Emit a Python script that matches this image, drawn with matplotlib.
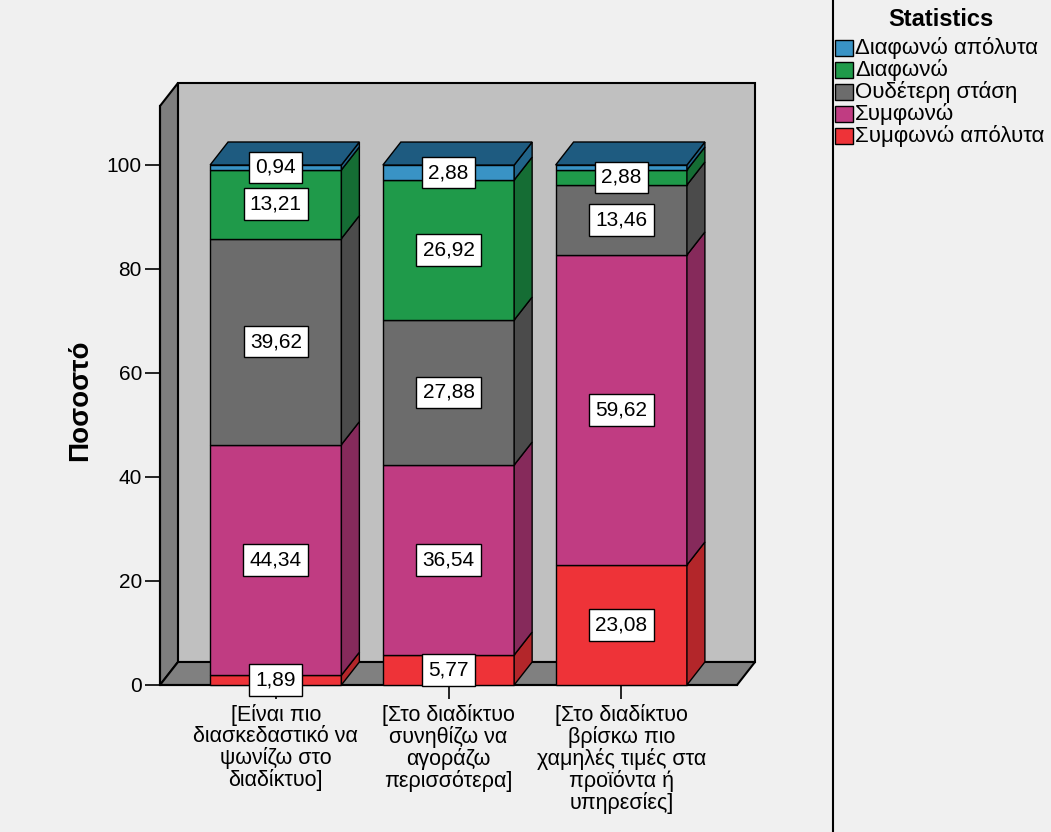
import matplotlib
matplotlib.use('Agg')
import matplotlib.pyplot as plt
from matplotlib.patches import Polygon, Rectangle
from matplotlib.lines import Line2D

plt.rcParams['font.family'] = ['Liberation Sans', 'DejaVu Sans']

# ---- data (percentages, stacked bottom -> top) ----
categories = [
    '[Είναι πιο\nδιασκεδαστικό να\nψωνίζω στο\nδιαδίκτυο]',
    '[Στο διαδίκτυο\nσυνηθίζω να\nαγοράζω\nπερισσότερα]',
    '[Στο διαδίκτυο\nβρίσκω πιο\nχαμηλές τιμές στα\nπροϊόντα ή\nυπηρεσίες]',
]
series_names = ['Συμφωνώ απόλυτα', 'Συμφωνώ', 'Ουδέτερη στάση', 'Διαφωνώ', 'Διαφωνώ απόλυτα']
agree_fully = [1.89, 5.77, 23.08]
agree = [44.34, 36.54, 59.62]
neutral = [39.62, 27.88, 13.46]
disagree = [13.21, 26.92, 2.88]
disagree_fully = [0.94, 2.88, 0.96]
series_values = [agree_fully, agree, neutral, disagree, disagree_fully]
# labels suppressed where they would collide (series index, bar index)
hidden_labels = {(4, 2)}

# front / side / top face colours per series
front_cols = ['#ee3338', '#c03c82', '#6c6c6c', '#1f9a4a', '#3993c5']
side_cols = ['#b3262a', '#862a5b', '#4b4b4b', '#156d34', '#216489']
top_cols = ['#b3262a', '#862a5b', '#4b4b4b', '#156d34', '#1e5b80']

W, H = 1051, 832
fig = plt.figure(figsize=(W / 100, H / 100), dpi=100, facecolor='#f0f0f0')

# pixel frame of the 3-D box: front-left x, back-right x, floor y, wall top y
PL, PR, PB, PT = 160, 755, 685, 83
px_x, px_y = 173.0, 5.2          # pixels per data unit
x0, x1 = -0.67, 2.67             # front face x-range
dx, dy = 18 / px_x, 23 / px_y    # depth offset
ymax = (PB - PT) / px_y - dy     # front top of walls
bar_w = 0.76

ax = fig.add_axes([PL / W, 1 - PB / H, (PR - PL) / W, (PB - PT) / H])
ax.set_facecolor('none')
ax.set_xlim(x0, x1 + dx)
ax.set_ylim(0, ymax + dy)

edge = dict(edgecolor='black', linewidth=1.5, clip_on=False)
ax.add_patch(Rectangle((x0 + dx, dy), x1 - x0, ymax, facecolor='#c0c0c0', zorder=1, **edge))
ax.add_patch(Polygon([(x0, 0), (x0 + dx, dy), (x0 + dx, ymax + dy), (x0, ymax)],
                     facecolor='#7e7e7e', zorder=1, **edge))
ax.add_patch(Polygon([(x0, 0), (x1, 0), (x1 + dx, dy), (x0 + dx, dy)],
                     facecolor='#808080', zorder=1, **edge))

seg_edge = dict(edgecolor='black', linewidth=1.0, clip_on=False)
for i in range(len(categories)):
    bottom = 0.0
    left, right = i - bar_w / 2, i + bar_w / 2
    for s, vals in enumerate(series_values):
        v = vals[i]
        top = bottom + v
        ax.add_patch(Rectangle((left, bottom), bar_w, v, facecolor=front_cols[s], zorder=3, **seg_edge))
        ax.add_patch(Polygon([(right, bottom), (right + dx, bottom + dy),
                              (right + dx, top + dy), (right, top)],
                             facecolor=side_cols[s], zorder=3, **seg_edge))
        if s == len(series_values) - 1:
            ax.add_patch(Polygon([(left, top), (left + dx, top + dy),
                                  (right + dx, top + dy), (right, top)],
                                 facecolor=top_cols[s], zorder=3, **seg_edge))
        bottom = top

    # value boxes, drawn after the bar so they sit on top
    bottom = 0.0
    for s, vals in enumerate(series_values):
        v = vals[i]
        if (s, i) not in hidden_labels:
            ax.text(i, bottom + v / 2, f'{v:.2f}'.replace('.', ','), ha='center', va='center',
                    fontsize=15, zorder=10,
                    bbox=dict(boxstyle='square,pad=0.3', facecolor='white',
                              edgecolor='black', linewidth=1.0))
        bottom += v

for side in ('top', 'right'):
    ax.spines[side].set_visible(False)
ax.spines['left'].set_bounds(0, ymax)
ax.spines['bottom'].set_bounds(x0, x1)
for side in ('left', 'bottom'):
    ax.spines[side].set_linewidth(1.5)
    ax.spines[side].set_zorder(2)

ax.set_yticks(range(0, 101, 20))
ax.set_xticks(range(len(categories)))
ax.set_xticklabels(categories, linespacing=1.0)
ax.tick_params(axis='y', direction='out', length=11, width=1.2, labelsize=15, pad=2)
ax.tick_params(axis='x', direction='out', length=10, width=1.2, labelsize=15.5, pad=4)

fig.text(80 / W, 1 - 400 / H, 'Ποσοστό', rotation=90, ha='center', va='center',
         fontsize=20, fontweight='bold')

# legend panel on the right
fig.add_artist(Line2D([833 / W, 833 / W], [0, 1], color='black', linewidth=1.5))
fig.text(941 / W, 1 - 19 / H, 'Statistics', ha='center', va='center',
         fontsize=17, fontweight='bold')
legend_rows = [48, 70, 92, 114, 136]
for row, s in zip(legend_rows, reversed(range(len(series_names)))):
    fig.add_artist(Rectangle((835 / W, 1 - (row + 8) / H), 18 / W, 16 / H,
                             transform=fig.transFigure, facecolor=front_cols[s],
                             edgecolor='black', linewidth=1.0))
    fig.text(855 / W, 1 - row / H, series_names[s], ha='left', va='center', fontsize=16)

fig.savefig('out.png', dpi=100, facecolor=fig.get_facecolor())
